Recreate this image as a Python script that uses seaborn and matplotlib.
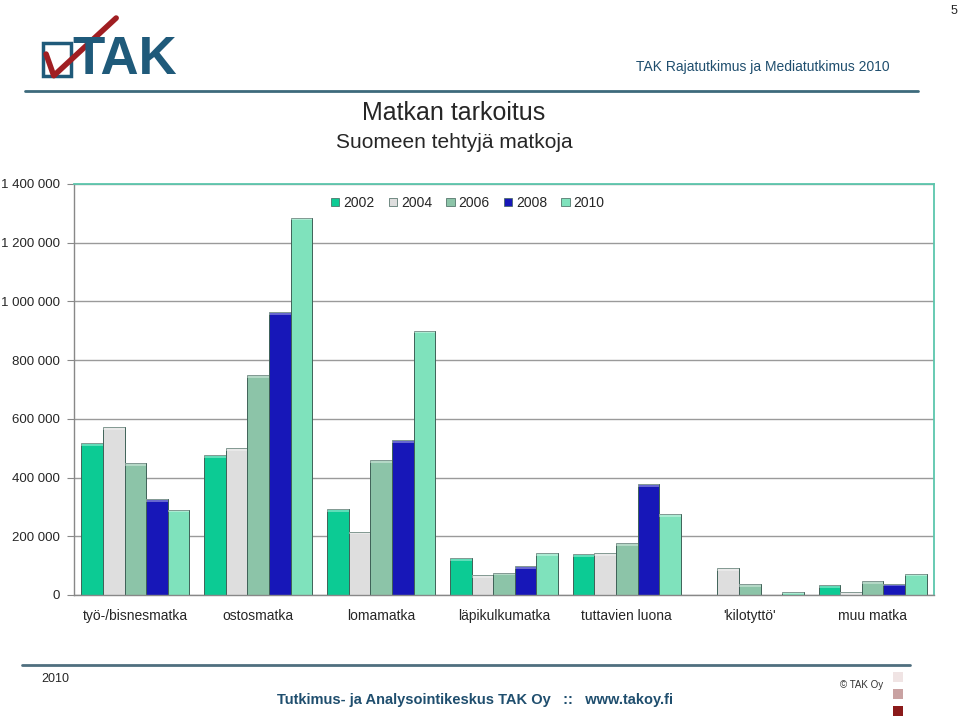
import matplotlib
matplotlib.use("Agg")
import matplotlib.pyplot as plt
from matplotlib.patches import Rectangle, Patch
from matplotlib.lines import Line2D
import seaborn as sns
import pandas as pd

categories = ["työ-/bisnesmatka", "ostosmatka", "lomamatka", "läpikulkumatka",
              "tuttavien luona", "'kilotyttö'", "muu matka"]
years = ["2002", "2004", "2006", "2008", "2010"]
v2002 = [518000, 477000, 292000, 125000, 140000, 0, 34000]
v2004 = [571000, 500000, 216000, 68000, 142000, 91000, 9000]
v2006 = [449000, 749000, 460000, 76000, 176000, 36000, 47000]
v2008 = [326000, 963000, 528000, 97000, 378000, 0, 38000]
v2010 = [290000, 1285000, 900000, 142000, 275000, 11000, 73000]
colors = ["#0ccb94", "#dedede", "#8cc4a8", "#1717b8", "#7fe2bc"]

rows = []
for y, vals in zip(years, [v2002, v2004, v2006, v2008, v2010]):
    for c, v in zip(categories, vals):
        rows.append({"kategoria": c, "vuosi": y, "matkoja": v})
df = pd.DataFrame(rows)

sns.set_style("white")
plt.rcParams["font.family"] = ["Liberation Sans", "DejaVu Sans"]

fig = plt.figure(figsize=(9.6, 7.21), dpi=100)
ax = fig.add_axes([0.0771, 0.1748, 0.8958, 0.5700])

sns.barplot(data=df, x="kategoria", y="matkoja", hue="vuosi", order=categories,
            hue_order=years, palette=colors, saturation=1, width=0.88, gap=0,
            edgecolor="#3f6258", linewidth=0.7, ax=ax, legend=False)

# light top strip for the bevel look
for p in ax.patches:
    h = p.get_height()
    if h > 0:
        ax.add_patch(Rectangle((p.get_x(), h - min(h, 9000)), p.get_width(), min(h, 9000),
                               facecolor="white", alpha=0.35, linewidth=0, zorder=p.get_zorder() + 0.1))

ax.set_ylim(0, 1400000)
ax.set_xlim(-0.5, len(categories) - 0.5)
ticks = list(range(0, 1400001, 200000))
ax.set_yticks(ticks)
ax.set_yticklabels([f"{t:,}".replace(",", " ") for t in ticks], fontsize=9.5)
ax.set_xticks(range(len(categories)))
ax.set_xticklabels(categories, fontsize=10)
ax.set_xticks([i + 0.5 for i in range(-1, len(categories))], minor=True)
ax.tick_params(axis="x", which="major", length=0, pad=10)
ax.tick_params(axis="x", which="minor", length=5, color="#888888", direction="out")
ax.tick_params(axis="y", length=5, color="#888888", direction="out", left=True, pad=5)
ax.set_xlabel("")
ax.set_ylabel("")
ax.yaxis.grid(True, color="#9a9a9a", linewidth=1)
ax.set_axisbelow(True)
for s in ["left", "bottom"]:
    ax.spines[s].set_color("#888888")
    ax.spines[s].set_linewidth(1)
for s in ["top", "right"]:
    ax.spines[s].set_color("#5cc6ac")
    ax.spines[s].set_linewidth(1.3)

handles = [Patch(facecolor=c, edgecolor="#3f6258", linewidth=0.5) for c in colors]
ax.legend(handles, years, ncol=5, frameon=False, fontsize=10, loc="center",
          bbox_to_anchor=(0.458, 0.954), handlelength=0.6, handleheight=0.6,
          handletextpad=0.3, columnspacing=1.0)

# titles
fig.text(0.473, 0.843, "Matkan tarkoitus", ha="center", va="center", fontsize=18)
fig.text(0.473, 0.802, "Suomeen tehtyjä matkoja", ha="center", va="center", fontsize=15)

# header
fig.text(0.927, 0.907, "TAK Rajatutkimus ja Mediatutkimus 2010", ha="right", va="center",
         fontsize=10, color="#1f4e6e")
fig.text(0.997, 0.993, "5", ha="right", va="top", fontsize=9)
fig.add_artist(Line2D([0.026, 0.956], [0.874, 0.874], color="#3d6a7c", linewidth=2))

# logo
fig.text(0.075, 0.917, "TAK", ha="left", va="center", fontsize=38, fontweight="bold",
         color="#1f5a7a")
fig.add_artist(Rectangle((0.045, 0.895), 0.029, 0.046, fill=False, edgecolor="#1f5a7a",
                         linewidth=2.5))
fig.add_artist(Line2D([0.048, 0.056, 0.121], [0.925, 0.895, 0.975], color="#a01e22",
                      linewidth=4, solid_capstyle="round"))

# footer
fig.add_artist(Line2D([0.023, 0.948], [0.077, 0.077], color="#4f6f7f", linewidth=2))
fig.text(0.043, 0.058, "2010", ha="left", va="center", fontsize=9)
fig.text(0.495, 0.029, "Tutkimus- ja Analysointikeskus TAK Oy   ::   www.takoy.fi",
         ha="center", va="center", fontsize=10.5, fontweight="bold", color="#1f4e6e")
fig.text(0.875, 0.050, "© TAK Oy", ha="left", va="center", fontsize=7, color="#333333")
for yy, col in zip([0.054, 0.030, 0.007], ["#f0e4e4", "#c9a2a2", "#8b1a1a"]):
    fig.add_artist(Rectangle((0.930, yy), 0.011, 0.014, facecolor=col, edgecolor="none"))

fig.savefig("out.png", dpi=100)
